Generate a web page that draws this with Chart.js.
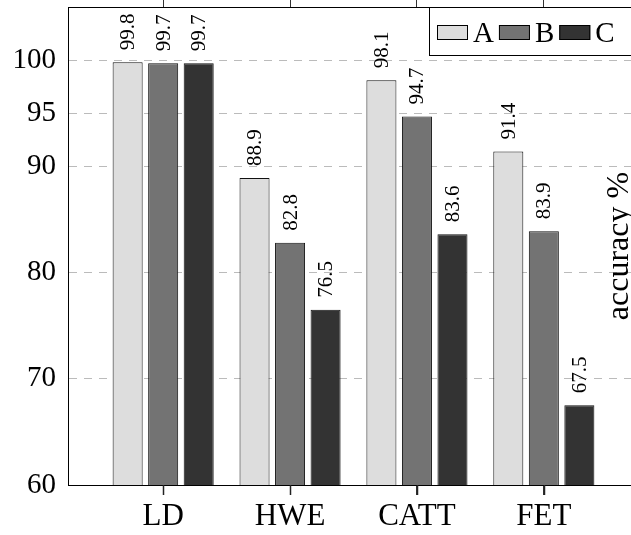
<!DOCTYPE html>
<html>
<head>
<meta charset="utf-8">
<script src="https://cdn.jsdelivr.net/npm/chart.js@4"></script>
<style>
html, body { margin:0; padding:0; background:#fff; overflow:hidden; }
canvas { display:block; }
</style>
</head>
<body>
<canvas id="accChart" width="660" height="535"></canvas>
<script>
const categories = ['LD', 'HWE', 'CATT', 'FET'];
const seriesNames = ['A', 'B', 'C'];
const valuesA = [99.8, 88.9, 98.1, 91.4];
const valuesB = [99.7, 82.8, 94.7, 83.9];
const valuesC = [99.7, 76.5, 83.6, 67.5];
const yTicks = [60, 70, 80, 90, 95, 100];
const yLabel = 'accuracy %';

const seriesValues = [valuesA, valuesB, valuesC];
const fills = ['#dddddd', '#737373', '#333333'];
const serif = '"Liberation Serif", "Times New Roman", serif';

Chart.defaults.font.family = serif;
Chart.defaults.color = '#000';

// rotated numbers above every bar
const valueLabels = {
    id: 'valueLabels',
    afterDatasetsDraw(chart) {
        const ctx = chart.ctx;
        ctx.save();
        ctx.font = '21px ' + serif;
        ctx.fillStyle = '#000';
        ctx.textAlign = 'left';
        ctx.textBaseline = 'middle';
        chart.data.datasets.forEach((ds, di) => {
            chart.getDatasetMeta(di).data.forEach((bar, i) => {
                ctx.save();
                ctx.translate(bar.x + 1, bar.y - 12);
                ctx.rotate(-Math.PI / 2);
                ctx.fillText(ds.data[i].y.toFixed(1), 0, 0);
                ctx.restore();
            });
        });
        ctx.restore();
    }
};

// legend box in the top right corner, y label inside the plot, bottom tick marks
const cornerLegend = {
    id: 'cornerLegend',
    afterDraw(chart) {
        const ctx = chart.ctx;
        const area = chart.chartArea;
        ctx.save();

        const xScale = chart.scales.x;
        ctx.strokeStyle = '#222';
        ctx.lineWidth = 1.5;
        categories.forEach((c, i) => {
            const px = Math.round(xScale.getPixelForValue(i)) + 0.5;
            ctx.beginPath();
            ctx.moveTo(px, area.bottom);
            ctx.lineTo(px, area.bottom + 10);
            ctx.stroke();
        });

        const left = area.right - 210;
        const top = area.top;
        ctx.lineWidth = 1;
        ctx.fillStyle = '#fff';
        ctx.fillRect(left, top, 211, 48);
        ctx.strokeStyle = '#000';
        ctx.strokeRect(left + 0.5, top + 0.5, 211, 48);

        ctx.font = '29px ' + serif;
        ctx.textBaseline = 'alphabetic';
        let x = left + 8;
        chart.data.datasets.forEach(ds => {
            ctx.fillStyle = ds.backgroundColor;
            ctx.fillRect(x, top + 18, 31, 15);
            ctx.strokeRect(x + 0.5, top + 18.5, 30, 14);
            x += 36;
            ctx.fillStyle = '#000';
            ctx.fillText(ds.label, x, top + 35);
            x += ctx.measureText(ds.label).width + 5;
        });

        ctx.font = '32px ' + serif;
        ctx.textAlign = 'center';
        ctx.translate(area.right - 11, (area.top + area.bottom) / 2);
        ctx.rotate(-Math.PI / 2);
        ctx.fillText(yLabel, 0, 0);
        ctx.restore();
    }
};

const categoryTicks = scale => {
    scale.ticks = categories.map((c, i) => ({ value: i }));
};
const noPadding = scale => {
    scale.paddingTop = 0;
    scale.paddingBottom = 0;
    scale.paddingLeft = 0;
    scale.paddingRight = 0;
};

new Chart(document.getElementById('accChart'), {
    type: 'bar',
    data: {
        datasets: seriesNames.map((name, s) => ({
            label: name,
            data: seriesValues[s].map((v, i) => ({ x: i, y: v })),
            backgroundColor: fills[s],
            borderColor: '#111',
            borderWidth: 1,
            borderSkipped: false,
            categoryPercentage: 0.84,
            barPercentage: 0.845,
            xAxisID: 'x'
        }))
    },
    options: {
        responsive: false,
        animation: false,
        layout: { padding: { top: 0, right: 21, left: 0, bottom: 0 } },
        plugins: {
            legend: { display: false },
            tooltip: { enabled: false }
        },
        scales: {
            x: {
                type: 'linear',
                position: 'bottom',
                offset: false,
                min: -0.75,
                max: 3.75,
                afterBuildTicks: categoryTicks,
                afterFit: scale => { scale.height = 50; noPadding(scale); },
                ticks: {
                    callback: v => categories[v],
                    font: { size: 31 },
                    padding: 3,
                    maxRotation: 0,
                    autoSkip: false
                },
                grid: { drawOnChartArea: false, offset: false, tickLength: 10, color: '#333' },
                border: { display: true, color: '#000', width: 1 }
            },
            x2: {
                type: 'linear',
                position: 'top',
                offset: false,
                min: -0.75,
                max: 3.75,
                afterBuildTicks: categoryTicks,
                afterFit: scale => { scale.height = 7; noPadding(scale); },
                ticks: { display: false },
                grid: { drawOnChartArea: false, offset: false, tickLength: 7, color: '#333' },
                border: { display: true, color: '#000', width: 1 }
            },
            y: {
                min: 60,
                max: 105,
                afterBuildTicks: scale => {
                    scale.ticks = yTicks.map(v => ({ value: v }));
                },
                afterFit: scale => { scale.width = 68; noPadding(scale); },
                ticks: { font: { size: 29 }, padding: 12 },
                grid: { color: '#bbbbbb', drawTicks: false },
                border: { display: true, color: '#000', width: 1, dash: [8, 7] }
            }
        }
    },
    plugins: [valueLabels, cornerLegend]
});
</script>
</body>
</html>
